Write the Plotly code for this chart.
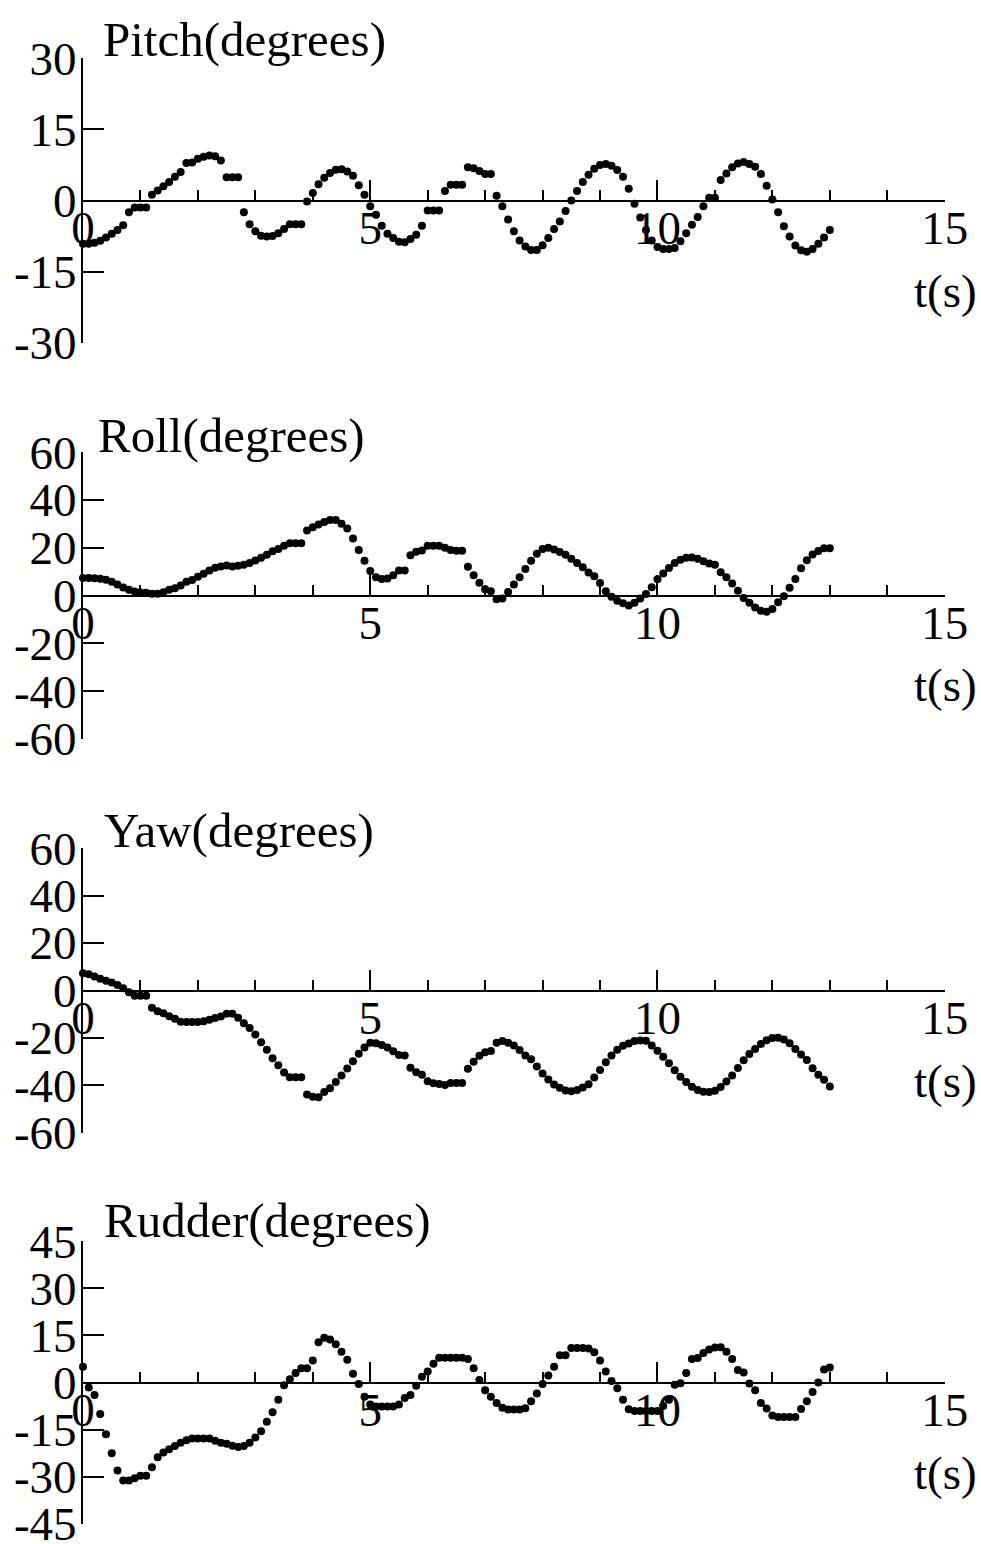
import plotly.graph_objects as go

time_s = [
    0.0, 0.1, 0.2, 0.3, 0.4, 0.5, 0.6, 0.7, 0.8, 0.9,
    1.0, 1.1, 1.2, 1.3, 1.4, 1.5, 1.6, 1.7, 1.8, 1.9,
    2.0, 2.1, 2.2, 2.3, 2.4, 2.5, 2.6, 2.7, 2.8, 2.9,
    3.0, 3.1, 3.2, 3.3, 3.4, 3.5, 3.6, 3.7, 3.8, 3.9,
    4.0, 4.1, 4.2, 4.3, 4.4, 4.5, 4.6, 4.7, 4.8, 4.9,
    5.0, 5.1, 5.2, 5.3, 5.4, 5.5, 5.6, 5.7, 5.8, 5.9,
    6.0, 6.1, 6.2, 6.3, 6.4, 6.5, 6.6, 6.7, 6.8, 6.9,
    7.0, 7.1, 7.2, 7.3, 7.4, 7.5, 7.6, 7.7, 7.8, 7.9,
    8.0, 8.1, 8.2, 8.3, 8.4, 8.5, 8.6, 8.7, 8.8, 8.9,
    9.0, 9.1, 9.2, 9.3, 9.4, 9.5, 9.6, 9.7, 9.8, 9.9,
    10.0, 10.1, 10.2, 10.3, 10.4, 10.5, 10.6, 10.7, 10.8, 10.9,
    11.0, 11.1, 11.2, 11.3, 11.4, 11.5, 11.6, 11.7, 11.8, 11.9,
    12.0, 12.1, 12.2, 12.3, 12.4, 12.5, 12.6, 12.7, 12.8, 12.9,
    13.0,
]

pitch = [
    -9.1, -9.1, -8.9, -8.5, -7.8, -7.0, -6.2, -5.2, -2.5, -1.5,
    -1.5, -1.5, 1.2, 2.1, 3.0, 3.9, 5.0, 6.0, 7.9, 8.0,
    8.8, 9.2, 9.5, 9.3, 8.4, 4.9, 4.9, 4.9, -2.5, -5.0,
    -6.5, -7.4, -7.6, -7.5, -6.9, -6.0, -5.0, -5.0, -5.0, -0.2,
    1.6, 3.4, 4.8, 5.8, 6.5, 6.6, 6.1, 5.2, 3.2, 1.2,
    -1.2, -3.0, -5.3, -7.0, -7.9, -8.7, -8.8, -8.1, -7.2, -5.3,
    -2.1, -2.1, -2.1, 2.0, 3.3, 3.3, 3.3, 7.0, 6.8, 6.2,
    5.6, 5.6, 1.0, -1.2, -4.0, -6.5, -8.4, -9.7, -10.4, -10.4,
    -9.4, -7.9, -6.0, -4.4, -2.2, 0.0, 2.0, 3.9, 5.4, 6.7,
    7.5, 7.7, 7.3, 6.4, 5.0, 2.5, -0.7, -3.6, -6.2, -8.4,
    -9.8, -10.2, -10.2, -10.0, -8.6, -6.9, -5.1, -3.5, -1.2, 0.6,
    0.6, 4.3, 5.7, 7.0, 7.8, 8.1, 7.7, 7.1, 5.6, 3.1,
    0.2, -2.5, -5.4, -7.6, -9.5, -10.5, -10.8, -10.2, -9.1, -7.8,
    -6.2,
]

roll = [
    7.3, 7.3, 7.2, 7.0, 6.6, 5.7, 4.6, 3.3, 2.4, 1.7,
    1.3, 1.1, 0.7, 0.7, 1.4, 2.4, 3.0, 4.2, 5.8, 6.5,
    7.8, 9.1, 10.5, 11.6, 12.1, 12.5, 12.1, 12.4, 12.9, 13.6,
    14.6, 15.8, 17.0, 18.5, 19.4, 20.8, 21.9, 21.9, 21.9, 27.2,
    28.6, 29.7, 30.7, 31.6, 31.6, 30.0, 28.0, 23.8, 19.0, 14.5,
    10.2, 7.6, 6.9, 7.1, 8.5, 10.5, 10.5, 16.8, 18.3, 18.8,
    20.8, 20.8, 20.8, 20.0, 19.0, 18.7, 18.7, 12.0, 8.5, 5.3,
    2.6, 1.8, -1.6, -1.3, 1.5, 4.6, 7.6, 11.1, 14.5, 17.5,
    19.4, 20.0, 19.2, 18.2, 17.0, 15.4, 13.6, 11.8, 9.6, 8.1,
    5.2, 1.8, -0.5, -2.2, -3.2, -4.2, -3.0, -1.3, 0.6, 3.4,
    6.8, 9.2, 11.5, 13.6, 15.0, 15.8, 15.9, 15.4, 14.3, 13.4,
    12.9, 9.7, 7.6, 5.0, 2.0, -1.0, -3.0, -5.0, -6.4, -6.8,
    -5.6, -2.8, -0.3, 3.2, 6.9, 11.4, 14.7, 17.1, 18.6, 19.8,
    19.8,
]

yaw = [
    7.3, 6.8, 5.9, 4.9, 4.1, 3.4, 2.3, 1.0, -0.7, -2.2,
    -2.2, -2.2, -7.3, -8.7, -9.6, -10.8, -11.9, -13.2, -13.3, -13.3,
    -13.3, -13.0, -12.3, -11.6, -11.0, -9.8, -9.8, -11.5, -13.8, -15.8,
    -18.5, -21.8, -25.0, -28.5, -31.5, -34.5, -36.5, -36.5, -36.5, -43.8,
    -44.8, -45.0, -42.8, -41.2, -38.5, -35.8, -32.9, -29.8, -26.6, -24.0,
    -22.0, -22.2, -23.0, -24.0, -25.6, -27.2, -27.4, -32.5, -34.4, -35.5,
    -38.2, -39.1, -39.4, -39.8, -39.0, -39.0, -39.0, -33.0, -30.0, -27.5,
    -26.0, -25.5, -22.0, -21.3, -22.0, -23.2, -25.1, -27.4, -29.0, -32.0,
    -35.0, -37.5, -39.6, -41.0, -42.1, -42.4, -41.9, -40.9, -39.5, -36.6,
    -33.5, -30.2, -27.4, -25.0, -23.3, -22.3, -21.3, -21.1, -21.2, -23.2,
    -25.4, -27.9, -30.6, -33.6, -36.3, -38.5, -40.5, -41.9, -42.7, -42.8,
    -42.2, -40.7, -38.3, -35.8, -32.6, -29.4, -26.8, -24.6, -22.5, -21.0,
    -20.0, -19.9, -20.6, -22.2, -24.6, -27.0, -29.3, -32.8, -35.5, -37.6,
    -40.4,
]

rudder = [
    5.0, -1.6, -4.0, -10.0, -16.5, -22.5, -28.0, -31.2, -31.2, -30.5,
    -29.7, -29.7, -27.0, -23.8, -22.3, -21.2, -20.2, -19.2, -18.4, -17.8,
    -17.8, -17.8, -17.8, -18.5, -19.2, -19.5, -20.1, -20.5, -20.2, -19.2,
    -17.5, -15.5, -12.5, -9.5, -5.5, -0.9, 1.0, 3.0, 4.5, 4.5,
    7.0, 12.8, 14.2, 13.7, 12.2, 9.8, 7.2, 2.8, -0.5, -4.5,
    -7.0, -7.6, -7.6, -7.6, -7.6, -7.0, -4.9, -4.0, -1.0, 1.8,
    3.5, 6.0, 7.9, 7.9, 7.9, 7.9, 7.9, 7.5, 4.5, 0.8,
    -2.5, -4.5, -6.5, -8.0, -8.6, -8.6, -8.6, -8.2, -6.0, -3.5,
    -0.5, 2.2, 5.0, 8.7, 8.7, 11.0, 11.0, 11.0, 10.8, 9.6,
    7.0, 3.5, 0.5, -1.8, -5.5, -8.5, -9.1, -9.1, -9.1, -9.1,
    -9.1, -7.5, -5.5, -0.7, -0.2, 3.0, 7.5, 7.8, 9.4, 10.5,
    11.1, 11.2, 9.8, 7.5, 4.0, 3.2, -0.3, -2.5, -6.5, -8.3,
    -10.5, -11.0, -11.0, -11.0, -11.0, -8.4, -6.0, -3.0, 0.0, 4.1,
    4.8,
]

titles = ["Pitch(degrees)", "Roll(degrees)", "Yaw(degrees)", "Rudder(degrees)"]
x_tickvals = [0, 5, 10, 15]
x_ticktext = ["0", "5", "10", "15"]
pitch_ticks = [-30, -15, 0, 15, 30]
pitch_ticktext = ["-30", "-15", "0", "15", "30"]
roll_ticks = [-60, -40, -20, 0, 20, 40, 60]
roll_ticktext = ["-60", "-40", "-20", "0", "20", "40", "60"]
yaw_ticks = [-60, -40, -20, 0, 20, 40, 60]
yaw_ticktext = ["-60", "-40", "-20", "0", "20", "40", "60"]
rudder_ticks = [-45, -30, -15, 0, 15, 30, 45]
rudder_ticktext = ["-45", "-30", "-15", "0", "15", "30", "45"]
x_label = "t(s)"

series = [pitch, roll, yaw, rudder]
yticks = [(pitch_ticks, pitch_ticktext), (roll_ticks, roll_ticktext),
          (yaw_ticks, yaw_ticktext), (rudder_ticks, rudder_ticktext)]
ylimits = [30, 60, 60, 45]

W, H = 981, 1544
FONT = "Liberation Serif"
TICK_SIZE = 47
# panel pixel extents (top, bottom) of the y axis
panel_px = [(58, 343), (452, 739), (848, 1133), (1241, 1524)]
title_dy = [18, 17, 18, 21]
title_x = [101, 96, 102, 102]
x_dom = [83 / W, 945 / W]

fig = go.Figure()
layout = dict(
    width=W, height=H, autosize=False,
    margin=dict(l=0, r=0, t=0, b=0, pad=0),
    paper_bgcolor="white", plot_bgcolor="white",
    showlegend=False,
    font=dict(family=FONT, size=TICK_SIZE, color="black"),
)
annotations = []

for i in range(4):
    k = "" if i == 0 else str(i + 1)
    top, bot = panel_px[i]
    y0 = 1 - bot / H
    y1 = 1 - top / H
    mid = (y0 + y1) / 2
    lim = ylimits[i] * 1.0004
    fig.add_trace(go.Scatter(
        x=time_s, y=series[i], mode="markers",
        marker=dict(color="black", size=8),
        xaxis="x" + k, yaxis="y" + k,
        hoverinfo="skip", cliponaxis=False,
    ))
    layout["xaxis" + k] = dict(
        domain=x_dom, range=[0, 15.005], anchor="free", position=mid,
        showline=True, linecolor="black", linewidth=2,
        ticks="inside", ticklen=20, tickwidth=2, tickcolor="black",
        tickvals=x_tickvals, ticktext=x_ticktext,
        minor=dict(dtick=1, tick0=0, ticks="inside", ticklen=10,
                   tickwidth=2, tickcolor="black"),
        showgrid=False, zeroline=False, automargin=False,
        tickfont=dict(family=FONT, size=TICK_SIZE, color="black"),
        ticklabelstandoff=-14, ticklabeloverflow="allow",
        fixedrange=True,
    )
    tv, tt = yticks[i]
    layout["yaxis" + k] = dict(
        domain=[y0, y1], range=[-lim, lim], anchor="x" + k,
        showline=True, linecolor="black", linewidth=2,
        ticks="inside", ticklen=21, tickwidth=2, tickcolor="black",
        tickvals=tv, ticktext=tt,
        showgrid=False, zeroline=False, automargin=False,
        tickfont=dict(family=FONT, size=TICK_SIZE, color="black"),
        ticklabelstandoff=-5, ticklabeloverflow="allow",
        fixedrange=True,
    )
    annotations.append(dict(
        text=titles[i], xref="paper", yref="paper",
        x=title_x[i] / W, y=1 - (top - title_dy[i]) / H,
        xanchor="left", yanchor="middle", showarrow=False,
        font=dict(family=FONT, size=49, color="black"),
    ))
    annotations.append(dict(
        text=x_label, xref="paper", yref="paper",
        x=945 / W, y=mid - 90 / H,
        xanchor="center", yanchor="middle", showarrow=False,
        font=dict(family=FONT, size=TICK_SIZE, color="black"),
    ))

layout["annotations"] = annotations
fig.update_layout(**layout)
fig.write_html("out.html")
